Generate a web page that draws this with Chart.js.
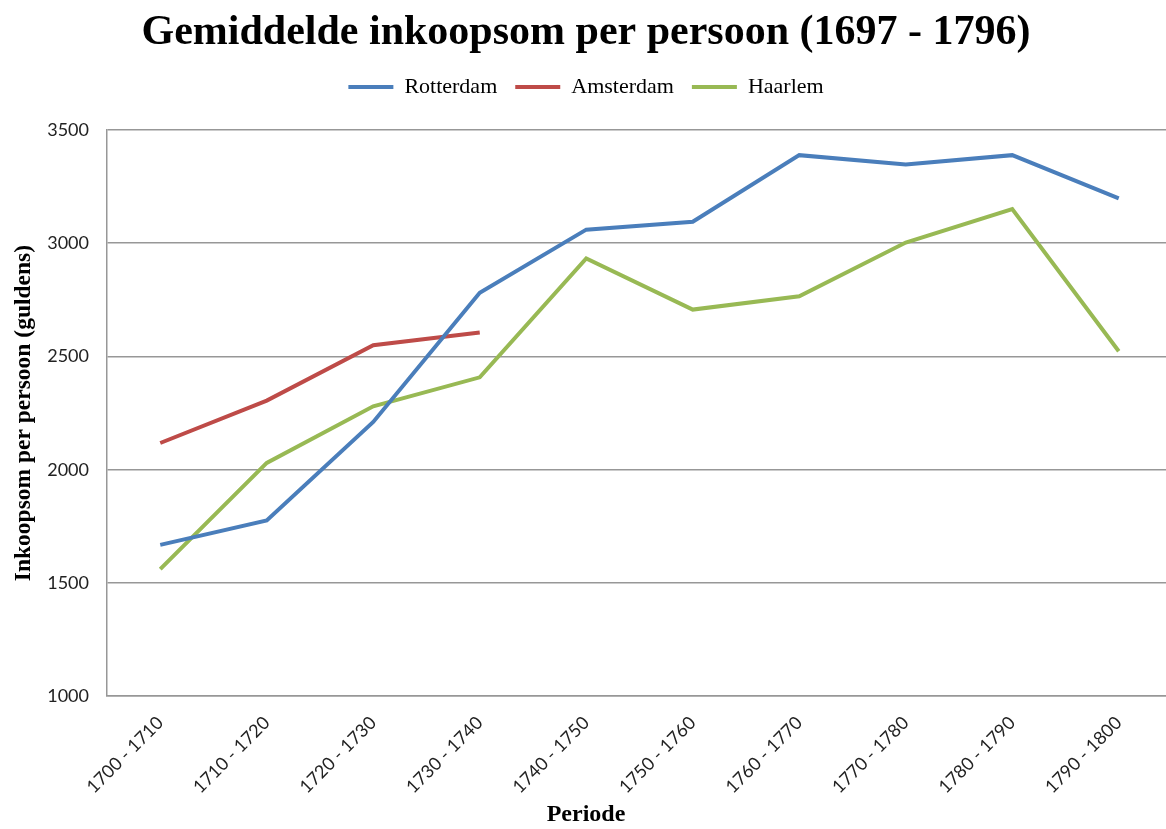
<!DOCTYPE html>
<html>
<head>
<meta charset="utf-8">
<title>Gemiddelde inkoopsom per persoon</title>
<script src="https://cdn.jsdelivr.net/npm/chart.js@4"></script>
<style>
    html, body { margin: 0; padding: 0; background: #fff; overflow: hidden; }
    /* plot area runs slightly past the right edge, as in the original */
    #wrap { width: 1172px; height: 829px; }
</style>
</head>
<body>
<div id="wrap"><canvas id="inkoopChart"></canvas></div>
<script>
// ===============================
// DATA
// ===============================

const periods = [
    '1700 - 1710', '1710 - 1720', '1720 - 1730', '1730 - 1740', '1740 - 1750',
    '1750 - 1760', '1760 - 1770', '1770 - 1780', '1780 - 1790', '1790 - 1800'
];

const rotterdam = [1668, 1776, 2211, 2781, 3060, 3095, 3389, 3348, 3389, 3198];
const amsterdam = [2118, 2305, 2550, 2606, null, null, null, null, null, null];
const haarlem   = [1561, 2030, 2280, 2408, 2933, 2707, 2766, 3003, 3151, 2523];

const yTicks = [1000, 1500, 2000, 2500, 3000, 3500];

// ===============================
// CHART
// ===============================

const serif = "'Liberation Serif', 'Times New Roman', serif";
const gridColor = '#979797';

// legend spacing fix (top of plot area sits at ~130px)
const legendHeight = {
    id: 'legendHeight',
    beforeInit(chart) {
        const fit = chart.legend.fit;
        chart.legend.fit = function () {
            fit.call(this);
            this.height = 72;
        };
    }
};

function line(label, data, color) {
    return {
        label: label,
        data: data,
        borderColor: color,
        backgroundColor: color,
        borderWidth: 4,
        pointRadius: 0,
        pointHoverRadius: 0,
        tension: 0,
        spanGaps: false
    };
}

const ctx = document.getElementById('inkoopChart');

new Chart(ctx, {
    type: 'line',
    data: {
        labels: periods,
        datasets: [
            line('Rotterdam', rotterdam, '#4a7ebb'),
            line('Amsterdam', amsterdam, '#be4b48'),
            line('Haarlem', haarlem, '#98b954')
        ]
    },
    plugins: [legendHeight],
    options: {
        responsive: true,
        maintainAspectRatio: false,
        animation: false,
        layout: { padding: 0 },

        plugins: {
            title: {
                display: true,
                text: 'Gemiddelde inkoopsom per persoon (1697 - 1796)',
                color: '#000',
                font: { family: serif, size: 42, weight: 'bold', lineHeight: 1.0 },
                padding: { top: 12, bottom: 4 }
            },
            // x axis title, centred on the whole chart like the original
            subtitle: {
                display: true,
                position: 'bottom',
                text: 'Periode',
                color: '#000',
                font: { family: serif, size: 24, weight: 'bold', lineHeight: 1.2 },
                padding: { top: 0, bottom: 0 }
            },
            legend: {
                display: true,
                position: 'top',
                labels: {
                    usePointStyle: true,
                    pointStyle: 'line',
                    pointStyleWidth: 45,
                    padding: 18,
                    color: '#000',
                    font: { family: serif, size: 22 }
                }
            },
            tooltip: { enabled: false }
        },

        scales: {
            x: {
                offset: true,
                grid: { display: false, drawTicks: false },
                border: { display: true, color: gridColor, width: 1.5 },
                ticks: {
                    minRotation: 45,
                    maxRotation: 45,
                    padding: 16,
                    color: '#222',
                    font: { family: 'Lato', size: 18 }
                },
                afterFit(scale) {
                    scale.height = 104;
                }
            },
            y: {
                min: 1000,
                max: 3500,
                afterBuildTicks(scale) {
                    scale.ticks = yTicks.map(v => ({ value: v }));
                },
                grid: { color: gridColor, lineWidth: 1.5, drawTicks: false },
                border: { display: true, color: gridColor, width: 1.5 },
                ticks: {
                    padding: 18,
                    color: '#222',
                    font: { family: 'Lato', size: 18 },
                    callback: value => String(value)
                },
                title: {
                    display: true,
                    text: 'Inkoopsom per persoon (guldens)',
                    color: '#000',
                    font: { family: serif, size: 23.5, weight: 'bold' },
                    padding: { top: 10, bottom: 0 }
                },
                afterFit(scale) {
                    scale.width = 107;
                }
            }
        }
    }
});
</script>
</body>
</html>
